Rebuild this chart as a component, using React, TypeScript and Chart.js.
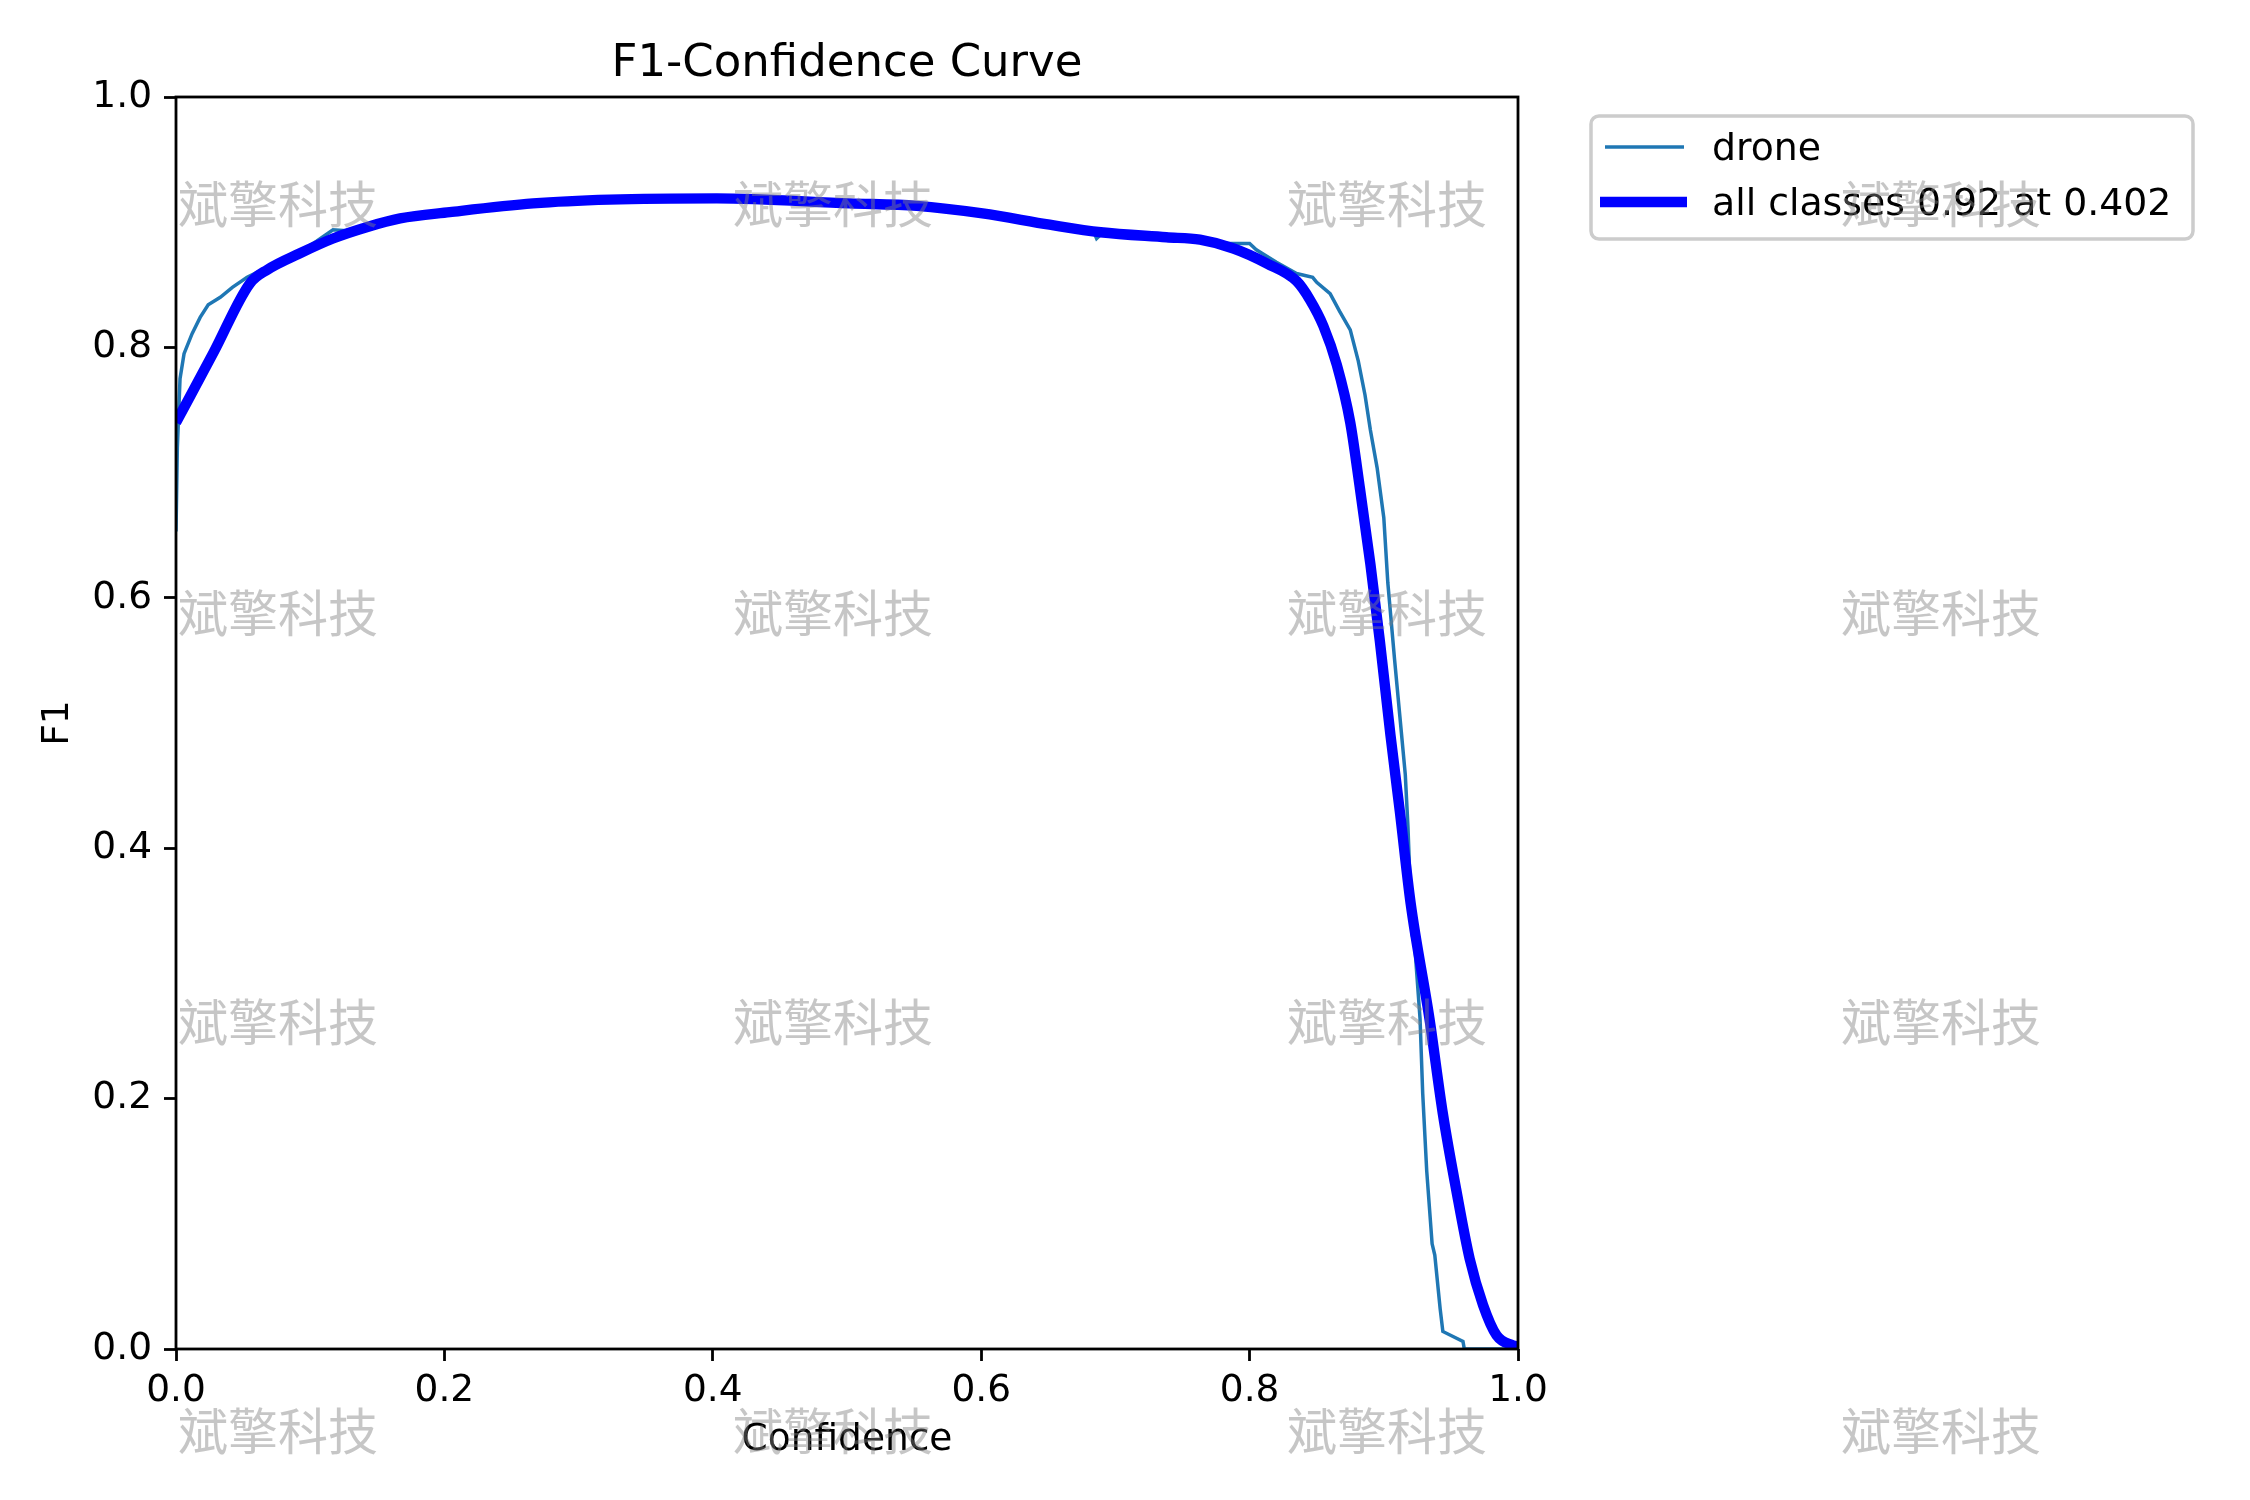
import Chart from "chart.js/auto";
import { useEffect, useRef } from "react";

const FONT = "'DejaVu Sans', sans-serif";
const WATERMARK = "斌擎科技";
const TITLE = "F1-Confidence Curve";

const xTicks = [0, 0.2, 0.4, 0.6, 0.8, 1.0];

// per-class curve
const droneConf = [
  0, 0.001, 0.003, 0.006, 0.012, 0.018, 0.024, 0.033, 0.042, 0.053, 0.068, 0.092, 0.105, 0.117,
  0.13, 0.142, 0.167, 0.204, 0.266, 0.323, 0.403, 0.502, 0.552, 0.601, 0.651, 0.684, 0.686, 0.69,
  0.738, 0.763, 0.783, 0.8, 0.805, 0.82, 0.835, 0.847, 0.85, 0.86, 0.867, 0.875, 0.881, 0.886,
  0.89, 0.895, 0.9, 0.903, 0.908, 0.912, 0.916, 0.918, 0.921, 0.923, 0.927, 0.929, 0.932, 0.936,
  0.938, 0.942, 0.944, 0.959, 0.96, 1.0,
];
const droneF1 = [
  0.653, 0.72, 0.775, 0.795, 0.811, 0.824, 0.834, 0.84, 0.848, 0.856, 0.864, 0.876, 0.885, 0.894,
  0.893, 0.897, 0.904, 0.908, 0.915, 0.918, 0.919, 0.915, 0.913, 0.907, 0.898, 0.892, 0.887, 0.891,
  0.888, 0.886, 0.883, 0.883, 0.878, 0.868, 0.859, 0.856, 0.852, 0.843, 0.829, 0.814, 0.789, 0.762,
  0.734, 0.704, 0.664, 0.612, 0.551, 0.505, 0.459, 0.417, 0.331, 0.323, 0.264, 0.204, 0.142, 0.084,
  0.075, 0.032, 0.014, 0.006, 0.0, 0.0,
];

// smoothed mean over all classes
const allConf = [
  0, 0.028, 0.055, 0.068, 0.092, 0.117, 0.142, 0.167, 0.204, 0.266, 0.323, 0.403, 0.502, 0.552,
  0.601, 0.651, 0.689, 0.738, 0.763, 0.788, 0.813, 0.835, 0.845, 0.855, 0.865, 0.875, 0.882, 0.89,
  0.897, 0.905, 0.912, 0.92, 0.934, 0.944, 0.954, 0.964, 0.974, 0.984, 0.996, 1.0,
];
const allF1 = [
  0.74, 0.796, 0.851, 0.862, 0.875, 0.887, 0.896, 0.903, 0.908, 0.915, 0.918, 0.919, 0.915, 0.913,
  0.907, 0.898, 0.892, 0.888, 0.886, 0.879, 0.867, 0.853, 0.838, 0.817, 0.786, 0.74, 0.689, 0.627,
  0.566, 0.49, 0.429, 0.356, 0.264, 0.188, 0.127, 0.072, 0.035, 0.011, 0.003, 0.002,
];

const legendLabels = ["drone", "all classes 0.92 at 0.402"];

const wmX = [178, 733, 1287, 1841];
const wmY = [204, 613, 1022, 1431];

const toPoints = (xs: number[], ys: number[]) => xs.map((x, i) => ({ x, y: ys[i] }));

const decor = {
  id: "decor",
  afterDatasetsDraw(chart: any) {
    const { ctx, chartArea: a } = chart;
    ctx.save();
    ctx.strokeStyle = "#000";
    ctx.lineWidth = 2.8;
    ctx.strokeRect(a.left, a.top, a.right - a.left, a.bottom - a.top);
    ctx.restore();
  },
  afterDraw(chart: any) {
    const { ctx, chartArea: a } = chart;
    ctx.save();

    // title
    ctx.fillStyle = "#000";
    ctx.font = `45px ${FONT}`;
    ctx.textAlign = "center";
    ctx.textBaseline = "alphabetic";
    ctx.fillText(TITLE, (a.left + a.right) / 2, a.top - 21);

    // legend
    const bx = 1591, by = 116, bw = 602, bh = 123;
    ctx.beginPath();
    ctx.roundRect(bx, by, bw, bh, 8);
    ctx.fillStyle = "rgba(255,255,255,0.8)";
    ctx.fill();
    ctx.strokeStyle = "#cccccc";
    ctx.lineWidth = 3.5;
    ctx.stroke();

    const rows = [
      { y: 147, base: 160, color: "#1f77b4", width: 3.5, x0: 1605, x1: 1684 },
      { y: 202, base: 215, color: "#0000ff", width: 10.4, x0: 1600, x1: 1687 },
    ];
    rows.forEach((r, i) => {
      ctx.beginPath();
      ctx.moveTo(r.x0, r.y);
      ctx.lineTo(r.x1, r.y);
      ctx.strokeStyle = r.color;
      ctx.lineWidth = r.width;
      ctx.lineCap = "butt";
      ctx.stroke();
      ctx.fillStyle = "#000";
      ctx.font = `37.8px ${FONT}`;
      ctx.textAlign = "left";
      ctx.textBaseline = "alphabetic";
      ctx.fillText(legendLabels[i], 1712, r.base);
    });

    // watermark
    ctx.font = `50px 'Noto Sans CJK SC', sans-serif`;
    ctx.fillStyle = "rgba(128,128,128,0.45)";
    ctx.textAlign = "left";
    ctx.textBaseline = "middle";
    wmY.forEach((y) => wmX.forEach((x) => ctx.fillText(WATERMARK, x, y)));
    ctx.restore();
  },
};

export default function App() {
  const chartRef = useRef<HTMLCanvasElement | null>(null);

  useEffect(() => {
    if (!chartRef.current) return;
    const ctx = chartRef.current.getContext("2d");
    if (!ctx) return;

    const tickFont = { family: FONT, size: 37.5 };

    const chart = new Chart(ctx, {
      type: "line",
      data: {
        datasets: [
          {
            label: legendLabels[0],
            data: toPoints(droneConf, droneF1),
            borderColor: "#1f77b4",
            borderWidth: 3.5,
            pointRadius: 0,
            tension: 0,
            fill: false,
            clip: 0,
            order: 1,
          },
          {
            label: legendLabels[1],
            data: toPoints(allConf, allF1),
            borderColor: "#0000ff",
            borderWidth: 10.4,
            pointRadius: 0,
            cubicInterpolationMode: "monotone",
            fill: false,
            clip: 0,
            order: 0,
          },
        ],
      },
      options: {
        animation: false,
        responsive: false,
        devicePixelRatio: 1,
        layout: { padding: { top: 97, right: 732, left: 0, bottom: 0 } },
        plugins: { legend: { display: false }, title: { display: false }, tooltip: { enabled: false } },
        scales: {
          x: {
            type: "linear",
            min: 0,
            max: 1,
            afterBuildTicks: (s: any) => {
              s.ticks = xTicks.map((v) => ({ value: v }));
            },
            ticks: {
              callback: (v: any) => Number(v).toFixed(1),
              font: tickFont,
              color: "#000",
              padding: 8,
              maxRotation: 0,
              autoSkip: false,
            },
            grid: { drawOnChartArea: false, drawTicks: true, tickLength: 12, tickWidth: 2.8, tickColor: "#000" },
            border: { display: false },
            title: {
              display: true,
              text: "Confidence",
              font: tickFont,
              color: "#000",
              padding: { top: 0, bottom: 37 },
            },
            afterFit: (s: any) => {
              s.height = 151;
            },
          },
          y: {
            type: "linear",
            min: 0,
            max: 1,
            afterBuildTicks: (s: any) => {
              s.ticks = xTicks.map((v) => ({ value: v }));
            },
            ticks: {
              callback: (v: any) => Number(v).toFixed(1),
              font: tickFont,
              color: "#000",
              padding: 12,
              autoSkip: false,
            },
            grid: { drawOnChartArea: false, drawTicks: true, tickLength: 12, tickWidth: 2.8, tickColor: "#000" },
            border: { display: false },
            title: {
              display: true,
              text: "F1",
              font: tickFont,
              color: "#000",
              padding: { top: 36, bottom: 0 },
            },
            afterFit: (s: any) => {
              s.width = 176;
            },
          },
        },
      },
      plugins: [decor],
    });
    return () => chart.destroy();
  }, []);

  return (
    <div style={{ position: "absolute", left: 0, top: 0, width: 2250, height: 1500, background: "#fff" }}>
      <canvas ref={chartRef} width={2250} height={1500} />
    </div>
  );
}
